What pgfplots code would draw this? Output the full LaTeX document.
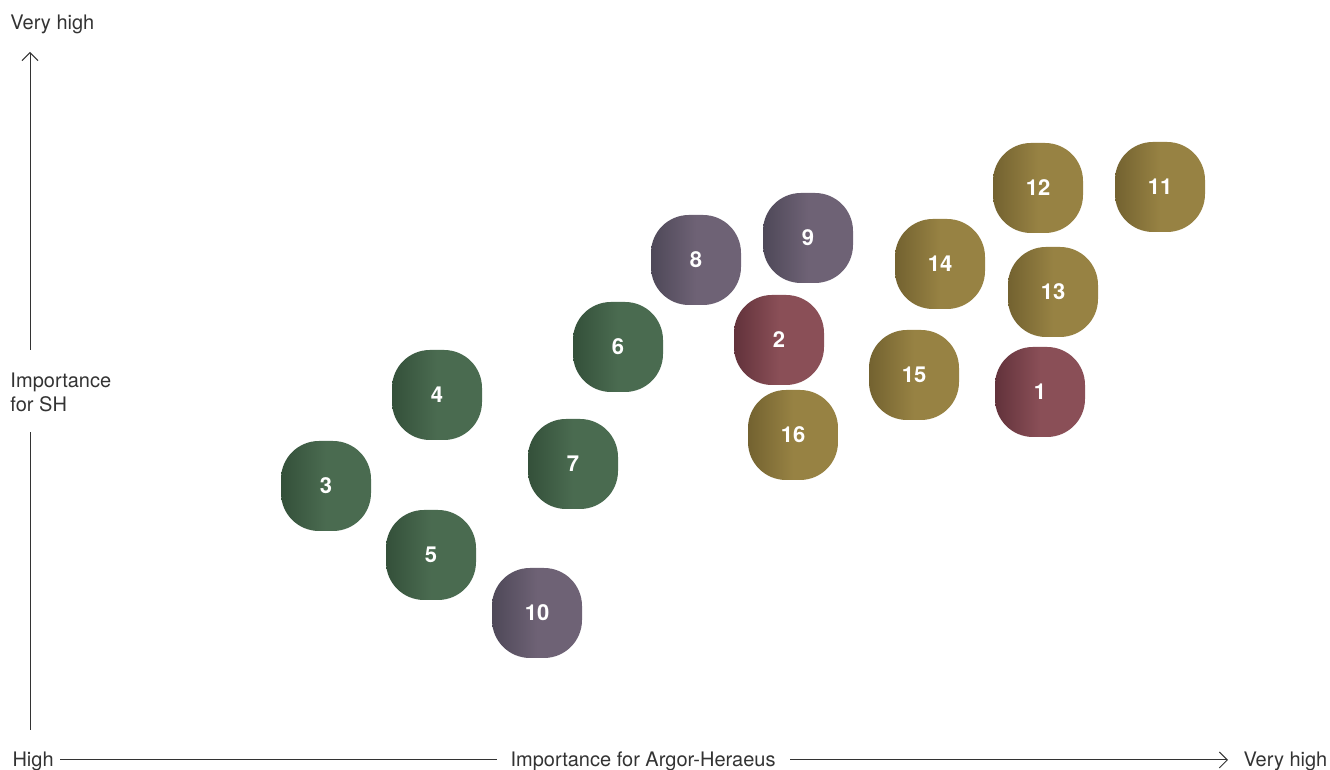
\documentclass[border=0pt]{standalone}
\usepackage{fontspec}
\setmainfont{TeX Gyre Heros}
\usepackage{pgfplots}
\pgfplotsset{compat=1.18}
\usetikzlibrary{arrows.meta}

\definecolor{axgray}{HTML}{333333}
\definecolor{grn}{HTML}{4A6B50}
\definecolor{grndark}{HTML}{34503A}
\definecolor{prp}{HTML}{6E6275}
\definecolor{prpdark}{HTML}{4E4858}
\definecolor{red}{HTML}{8A4F57}
\definecolor{reddark}{HTML}{62323B}
\definecolor{gld}{HTML}{978243}
\definecolor{glddark}{HTML}{736230}

% topics, positions in pixel units of the original (y counted from bottom)
\pgfplotstableread{
x    y    label
326  284  3
437  375  4
431  215  5
618  423  6
573  306  7
}\greentopics
\pgfplotstableread{
x    y    label
696  510  8
808  532  9
537  157  10
}\purpletopics
\pgfplotstableread{
x    y    label
1040 378  1
779  430  2
}\redtopics
\pgfplotstableread{
x    y    label
1160 583  11
1038 582  12
1053 478  13
940  506  14
914  395  15
793  335  16
}\goldtopics

\pgfplotsset{
  blob/.style 2 args={
    only marks, mark=none,
    point meta=explicit symbolic,
    nodes near coords={\textbf{\pgfplotspointmeta}},
    nodes near coords align={center},
    every node near coord/.style={
      minimum width=45pt, minimum height=45pt, inner sep=0pt,
      rounded corners=19pt,
      left color=#2, right color=#1, middle color=#1,
      text=white, font=\fontsize{11}{12}\selectfont\bfseries
    }
  }
}

\begin{document}
\begin{tikzpicture}
\begin{axis}[
    width=665pt, height=385pt,
    scale only axis,
    xmin=0, xmax=1330, ymin=0, ymax=770,
    hide axis,
    clip=false,
]

\addplot[blob={grn}{grndark}] table[x=x, y=y, meta=label] {\greentopics};
\addplot[blob={prp}{prpdark}] table[x=x, y=y, meta=label] {\purpletopics};
\addplot[blob={red}{reddark}] table[x=x, y=y, meta=label] {\redtopics};
\addplot[blob={gld}{glddark}] table[x=x, y=y, meta=label] {\goldtopics};

% axis arrows and labels
\begin{scope}[axgray, line width=0.5pt, font=\fontsize{10}{12}\selectfont]
  \draw[-{Straight Barb[length=4pt,width=8pt]}] (axis cs:30,420) -- (axis cs:30,718);
  \draw (axis cs:30,40) -- (axis cs:30,338);
  \draw (axis cs:60,10) -- (axis cs:497,10);
  \draw[-{Straight Barb[length=4pt,width=8pt]}] (axis cs:790,10) -- (axis cs:1228,10);
  \node[anchor=base west, inner sep=0pt, text=axgray] at (axis cs:10,740) {Very high};
  \node[anchor=west, inner sep=0pt, align=left, text=axgray] at (axis cs:10,378) {Importance\\for SH};
  \node[anchor=base west, inner sep=0pt, text=axgray] at (axis cs:12,3) {High};
  \node[anchor=base west, inner sep=0pt, text=axgray] at (axis cs:510,3) {Importance for Argor-Heraeus};
  \node[anchor=base west, inner sep=0pt, text=axgray] at (axis cs:1243,3) {Very high};
\end{scope}

\end{axis}
\pgfresetboundingbox
\useasboundingbox (current axis.south west) rectangle (current axis.north east);
\end{tikzpicture}
\end{document}
